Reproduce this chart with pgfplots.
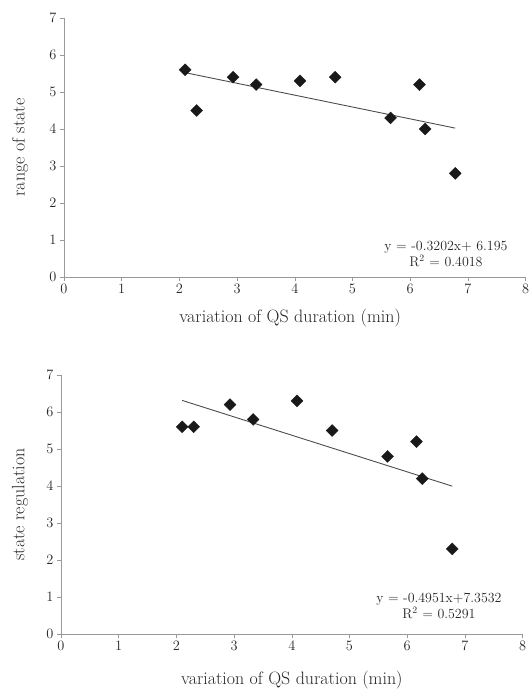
\documentclass[border=0pt]{standalone}
\usepackage{pgfplots}
\pgfplotsset{compat=1.18}

\pgfplotsset{
  scatterpanel/.style={
    scale only axis,
    width=461.6bp, height=259bp,
    xmin=0, xmax=8, ymin=0, ymax=7,
    xtick={0,...,8}, ytick={0,...,7},
    axis lines=left,
    axis line style={-, gray!80, line width=0.8pt},
    tick style={gray!80, line width=0.6pt},
    tick align=outside,
    major tick length=4bp,
    tick label style={font=\fontsize{15.5}{17}\selectfont, text=black!85},
    label style={font=\fontsize{18}{21}\selectfont, text=black!85},
    xlabel={variation of QS duration (min)},
    clip=false,
  },
  trend/.style={no marks, black!70, line width=0.9pt},
  pts/.style={only marks, mark=square*, mark size=4.2bp,
    mark options={rotate=45}, black!90},
}

\begin{document}
\begin{tikzpicture}
% top panel
\begin{axis}[scatterpanel,
    ylabel={range of state},
    ylabel style={at={(axis description cs:-0.095,0.5)}, anchor=center},
    xlabel style={at={(axis description cs:0.49,-0.158)}, anchor=center}]
\addplot[trend] coordinates {(2.10,5.523) (6.78,4.024)};
\addplot[pts] coordinates {
  (2.10,5.6) (2.30,4.5) (2.93,5.4) (3.33,5.2) (4.09,5.3)
  (4.70,5.4) (5.66,4.3) (6.16,5.2) (6.26,4.0) (6.78,2.8)};
\node[align=center, font=\fontsize{14}{16}\selectfont, text=black!85]
  at (axis cs:6.62,0.62) {y = -0.3202x+ 6.195\\R\textsuperscript{2} = 0.4018};
\end{axis}

% bottom panel
\begin{axis}[scatterpanel, at={(-3bp,-357bp)},
    ylabel={state regulation},
    ylabel style={at={(axis description cs:-0.089,0.5)}, anchor=center},
    xlabel style={at={(axis description cs:0.5,-0.178)}, anchor=center}]
\addplot[trend] coordinates {(2.10,6.313) (6.78,3.996)};
\addplot[pts] coordinates {
  (2.10,5.6) (2.30,5.6) (2.93,6.2) (3.33,5.8) (4.09,6.3)
  (4.70,5.5) (5.66,4.8) (6.16,5.2) (6.26,4.2) (6.78,2.3)};
\node[align=center, font=\fontsize{14}{16}\selectfont, text=black!85]
  at (axis cs:6.55,0.75) {y = -0.4951x+7.3532\\R\textsuperscript{2} = 0.5291};
\end{axis}

\pgfresetboundingbox
\path (-64bp,-413bp) rectangle (466bp,277bp);
\end{tikzpicture}
\end{document}
